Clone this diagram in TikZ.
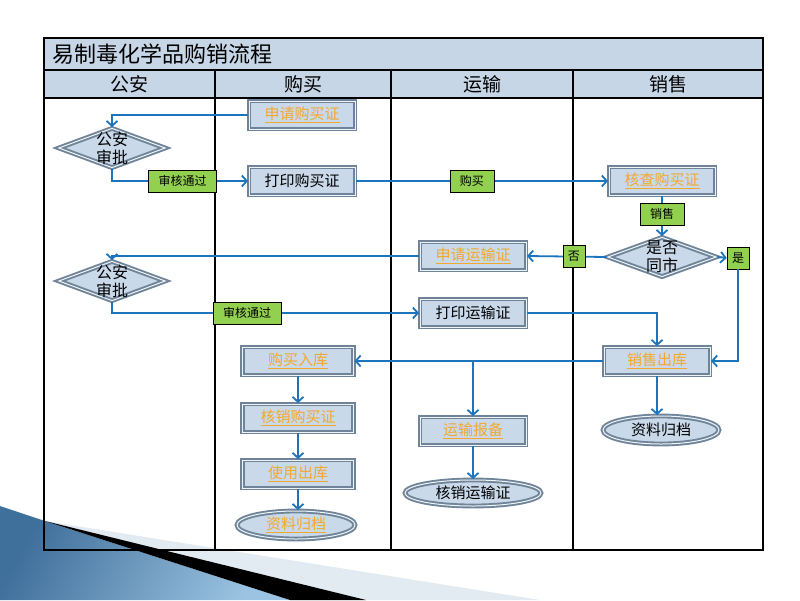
\documentclass[tikz,border=0pt]{standalone}
\usepackage{fontspec}
\setmainfont{Noto Sans CJK SC}
\usetikzlibrary{shapes.geometric,arrows.meta}
\definecolor{headblue}{HTML}{C6D6E6}
\definecolor{boxblue}{HTML}{C9D9EA}
\definecolor{boxedge}{HTML}{6F8498}
\definecolor{flowblue}{HTML}{1C74BC}
\definecolor{taggreen}{HTML}{92D050}
\definecolor{linkorange}{HTML}{F2A82C}
\definecolor{wedgedark}{HTML}{3F6F9B}
\definecolor{wedgelight}{HTML}{9CC4E2}
\definecolor{stripgray}{HTML}{E2EAF2}
\tikzset{>={Straight Barb[length=5pt,width=11pt]}}
\tikzset{
  procbox/.style={rectangle, fill=boxblue, draw=boxedge, line width=1.9pt,
    double=boxblue!30!white, double distance=1pt,
    minimum width=106pt, minimum height=28pt, inner sep=0pt,
    font=\fontsize{15}{17}\selectfont},
  decide/.style={diamond, fill=boxblue, draw=boxedge, line width=1.9pt,
    double=boxblue!30!white, double distance=1pt,
    minimum width=107pt, minimum height=40pt, inner sep=0pt},
  decidetext/.style={align=center, font=\fontsize{16}{18}\selectfont},
  archive/.style={ellipse, fill=boxblue, draw=boxedge, line width=1.9pt,
    double=boxblue!30!white, double distance=1pt,
    minimum width=118pt, minimum height=28pt, inner sep=0pt,
    font=\fontsize{15}{17}\selectfont},
  tag/.style={rectangle, fill=taggreen, draw=black, line width=0.6pt,
    inner xsep=10pt, minimum height=22pt, inner ysep=0pt,
    font=\fontsize{12}{14}\selectfont},
  flow/.style={->, draw=flowblue, line width=1.8pt},
  lane/.style={font=\fontsize{19}{21}\selectfont}
}
\newcommand{\linktext}[1]{\textcolor{linkorange}{\underline{#1}}}

\begin{document}
\begin{tikzpicture}[x=1pt,y=-1pt]
  \useasboundingbox (0,0) rectangle (800,600);

  % Slide decoration, bottom left
  \fill[stripgray] (45,521) -- (540,600) -- (360,600) -- cycle;
  \shade[left color=wedgedark, right color=wedgelight, shading angle=60]
    (0,506) -- (45,521) -- (290,600) -- (0,600) -- cycle;
  \fill[black] (45,521) -- (366,600) -- (290,600) -- cycle;

  % Table frame
  \fill[headblue] (44,38) rectangle (763,98);
  \draw[line width=1.1pt] (44,38) rectangle (763,550);
  \draw[line width=1.1pt] (44,70) -- (763,70);
  \draw[line width=1.1pt] (44,98) -- (763,98);
  \foreach \x in {215,391,573}
    \draw[line width=1.1pt] (\x,70) -- (\x,550);

  % Title and lanes
  \node[anchor=west, font=\fontsize{22}{24}\selectfont] (title) at (49,54) {易制毒化学品购销流程};
  \node[lane] (lanePolice) at (129,84) {公安};
  \node[lane] (laneBuy) at (303,84) {购买};
  \node[lane] (laneShip) at (482,84) {运输};
  \node[lane] (laneSell) at (668,84) {销售};

  % Steps
  \node[procbox] (sqgmz) at (302,115) {\linktext{申请购买证}};
  \node[procbox] (dygmz) at (302,181) {打印购买证};
  \node[procbox] (hcgmz) at (662,181) {\linktext{核查购买证}};
  \node[procbox] (sqysz) at (473,256) {\linktext{申请运输证}};
  \node[procbox] (dyysz) at (473,313) {打印运输证};
  \node[procbox] (xsck) at (657,361) {\linktext{销售出库}};
  \node[procbox, minimum width=111pt] (gmrk) at (298,361) {\linktext{购买入库}};
  \node[procbox, minimum width=111pt] (hxgmz) at (298,418) {\linktext{核销购买证}};
  \node[procbox, minimum width=111pt] (sych) at (298,474) {\linktext{使用出库}};
  \node[procbox] (ysbb) at (473,431) {\linktext{运输报备}};

  % Decisions
  \node[decide] (gaA) at (112,148) {};
  \node[decidetext] (gaAtxt) at (gaA) {公安\\审批};
  \node[decide] (gaB) at (112,281) {};
  \node[decidetext] (gaBtxt) at (gaB) {公安\\审批};
  \node[decide, minimum width=109pt] (sftc) at (662,257) {};
  \node[decidetext] (sftctxt) at (sftc) {是否\\同市};

  % Ends
  \node[archive] (zlgdA) at (296,525) {\linktext{资料归档}};
  \node[archive, minimum width=136pt, minimum height=26pt] (hxysz) at (473,493) {核销运输证};
  \node[archive, minimum width=116pt] (zlgdB) at (661,430) {资料归档};
  \node[tag, inner xsep=5pt] (yes) at (738,258) {是};

  % Connectors
  \draw[flow] (sqgmz.west) -| (gaA.north);
  \draw[flow] (gaA.south) |- node[tag, pos=0.76] (passA) {审核通过} (dygmz.west);
  \draw[flow] (dygmz.east) -- node[tag, pos=0.46] (buy) {购买} (hcgmz.west);
  \draw[flow] (hcgmz.south) -- node[tag, pos=0.45] (sell) {销售} (sftc.north);
  \draw[flow] (sftc.west) -- node[tag, inner xsep=5pt, pos=0.41] (no) {否} (sqysz.east);
  \draw[flow] (sftc.east) -- (yes.west);
  \draw[flow] (yes.south) |- (xsck.east);
  \draw[flow] (sqysz.west) -| (gaB.north);
  \draw[flow] (gaB.south) |- node[tag, pos=0.72] (passB) {审核通过} (dyysz.west);
  \draw[flow] (dyysz.east) -| (xsck.north);
  \draw[flow] (xsck.west) -- (gmrk.east);
  \draw[flow] (xsck.west -| ysbb.north) -- (ysbb.north);
  \draw[flow] (gmrk) -- (hxgmz);
  \draw[flow] (hxgmz) -- (sych);
  \draw[flow] (sych.south) -- (sych.south |- zlgdA.north);
  \draw[flow] (ysbb) -- (hxysz);
  \draw[flow] (xsck.south) -- (xsck.south |- zlgdB.north);
\end{tikzpicture}
\end{document}
